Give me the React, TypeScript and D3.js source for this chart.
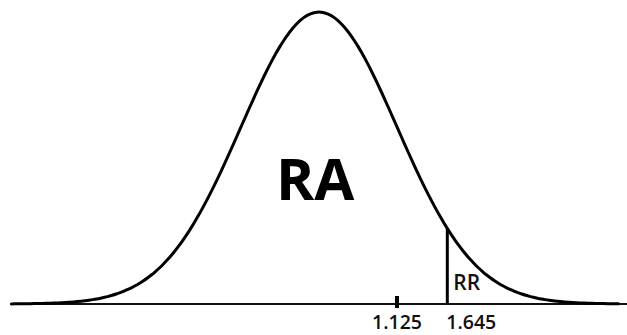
import { useEffect, useRef } from "react";
import * as d3 from "d3";

// z positions (tick drawn at ~1 sigma, line at 1.645)
const tickPositions = [1.0, 1.645];
const tickLabels = ["1.125", "1.645"];
const criticalZ = 1.645;
const regionLabels = ["RA", "RR"];

const App = () => {
  const ref = useRef<SVGSVGElement | null>(null);

  useEffect(() => {
    document.body.style.margin = "0";
    const dims = { width: 627, height: 335 };
    const svg = d3.select(ref.current);
    svg.selectAll("*").remove();
    svg.attr("width", dims.width).attr("height", dims.height);

    const x = d3.scaleLinear().domain([-4, 4]).range([319 - 4 * 78, 319 + 4 * 78]);
    const y = d3.scaleLinear().domain([0, 1]).range([304, 12]);

    const pdf = (z: number) => Math.exp((-z * z) / 2);
    const pts = d3.range(-3.95, 3.9, 0.05).map((z) => [z, pdf(z)] as [number, number]);

    const line = d3
      .line<[number, number]>()
      .x((d) => x(d[0]))
      .y((d) => y(d[1]))
      .curve(d3.curveBasis);

    // baseline
    svg
      .append("line")
      .attr("x1", 10)
      .attr("x2", 627)
      .attr("y1", y(0))
      .attr("y2", y(0))
      .attr("stroke", "#111")
      .attr("stroke-width", 2);

    svg
      .append("path")
      .datum(pts)
      .attr("d", line)
      .attr("fill", "none")
      .attr("stroke", "#000")
      .attr("stroke-width", 3);

    // critical value line
    svg
      .append("line")
      .attr("x1", x(criticalZ))
      .attr("x2", x(criticalZ))
      .attr("y1", y(pdf(criticalZ)))
      .attr("y2", y(0))
      .attr("stroke", "#000")
      .attr("stroke-width", 3);

    // small tick
    svg
      .append("line")
      .attr("x1", x(tickPositions[0]))
      .attr("x2", x(tickPositions[0]))
      .attr("y1", y(0) - 8)
      .attr("y2", y(0) + 4)
      .attr("stroke", "#000")
      .attr("stroke-width", 4);

    svg
      .selectAll(".tlabel")
      .data(tickPositions)
      .enter()
      .append("text")
      .attr("class", "tlabel")
      .attr("x", (d, i) => (i === 0 ? x(d) : x(d) - 1))
      .attr("y", 329)
      .attr("text-anchor", (d, i) => (i === 0 ? "middle" : "start"))
      .style("font-family", "'Open Sans', sans-serif")
      .style("font-weight", "600")
      .style("font-size", "19.5px")
      .style("fill", "#111")
      .text((d, i) => tickLabels[i]);

    svg
      .append("text")
      .attr("x", x(-0.05))
      .attr("y", 200)
      .attr("text-anchor", "middle")
      .style("font-family", "'Open Sans', sans-serif")
      .style("font-weight", "700")
      .style("font-size", "58px")
      .style("fill", "#000")
      .text(regionLabels[0]);

    svg
      .append("text")
      .attr("x", x(criticalZ) + 6)
      .attr("y", 290)
      .style("font-family", "'Open Sans', sans-serif")
      .style("font-weight", "600")
      .style("font-size", "21px")
      .style("fill", "#111")
      .text(regionLabels[1]);
  }, []);

  return <svg ref={ref}></svg>;
};

export default App;
